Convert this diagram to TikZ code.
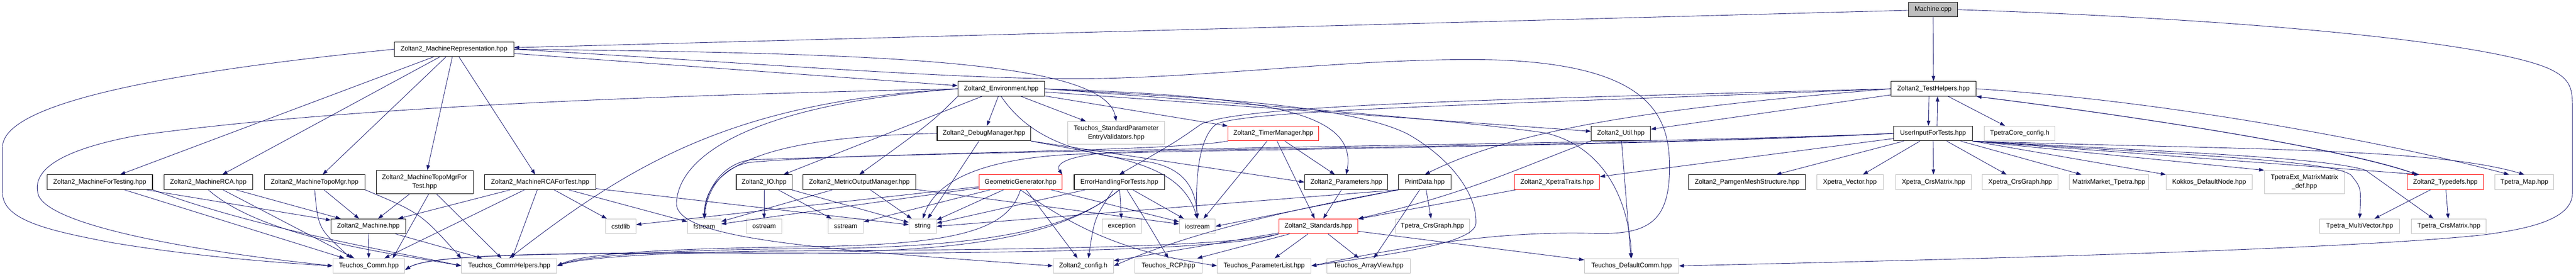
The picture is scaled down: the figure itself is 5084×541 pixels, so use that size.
\documentclass[tikz,border=0pt]{standalone}
\usepackage{fontspec}
\setmainfont{Liberation Sans}
\usetikzlibrary{arrows.meta}
\definecolor{edgeblue}{HTML}{191970}
\definecolor{boxgray}{HTML}{BFBFBF}

\begin{document}
\begin{tikzpicture}
		[x=1pt, y=-1pt,
		file/.style={rectangle, inner sep=0pt, minimum height=29pt, align=center, font=\fontsize{12.85}{17}\selectfont},
		doc/.style={file, draw=black, line width=1.1pt},
		ext/.style={file, draw=boxgray, line width=1pt},
		trunc/.style={file, draw=red, line width=1.1pt},
		root/.style={doc, fill=boxgray},
		dep/.style={-{Triangle[length=10pt,width=7pt]}, draw=edgeblue, line width=0.9pt}]
		\useasboundingbox (0,0) rectangle (5084,541);

		% the files, row by row
		\node [root, minimum width=97] (machine) at (3815,19) {Machine.cpp};
		\node [doc, minimum width=236] (rep) at (896,97) {Zoltan2\_MachineRepresentation.hpp};
		\node [doc, minimum width=171] (env) at (1976,175) {Zoltan2\_Environment.hpp};
		\node [doc, minimum width=168] (testh) at (3816,175) {Zoltan2\_TestHelpers.hpp};

		\node [doc, minimum width=185] (dbg) at (1942,263) {Zoltan2\_DebugManager.hpp};
		\node [ext, minimum width=191, minimum height=45] (spev) at (2203,262) {Teuchos\_StandardParameter\\EntryValidators.hpp};
		\node [trunc, minimum width=179] (timer) at (2513,263) {Zoltan2\_TimerManager.hpp};
		\node [doc, minimum width=117] (util) at (3199,263) {Zoltan2\_Util.hpp};
		\node [doc, minimum width=155] (uift) at (3815,263) {UserInputForTests.hpp};
		\node [ext, minimum width=139] (tcfg) at (3986,263) {TpetraCore\_config.h};

		\node [doc, minimum width=208] (mft) at (197,359) {Zoltan2\_MachineForTesting.hpp};
		\node [doc, minimum width=175] (rca) at (411,359) {Zoltan2\_MachineRCA.hpp};
		\node [doc, minimum width=198] (topo) at (621,359) {Zoltan2\_MachineTopoMgr.hpp};
		\node [doc, minimum width=191, minimum height=46] (topot) at (838,359) {Zoltan2\_MachineTopoMgrFor\\Test.hpp};
		\node [doc, minimum width=219] (rcat) at (1066,359) {Zoltan2\_MachineRCAForTest.hpp};
		\node [doc, minimum width=110] (io) at (1508,359) {Zoltan2\_IO.hpp};
		\node [doc, minimum width=223] (mom) at (1696,359) {Zoltan2\_MetricOutputManager.hpp};
		\node [trunc, minimum width=164] (geo) at (2014,359) {GeometricGenerator.hpp};
		\node [doc, minimum width=178] (ehft) at (2209,359) {ErrorHandlingForTests.hpp};
		\node [doc, minimum width=164] (params) at (2657,359) {Zoltan2\_Parameters.hpp};
		\node [doc, minimum width=103] (pdata) at (2812,359) {PrintData.hpp};
		\node [trunc, minimum width=168] (xtraits) at (3073,359) {Zoltan2\_XpetraTraits.hpp};
		\node [doc, minimum width=231] (pamgen) at (3448,359) {Zoltan2\_PamgenMeshStructure.hpp};
		\node [ext, minimum width=131] (xvec) at (3651,359) {Xpetra\_Vector.hpp};
		\node [ext, minimum width=150] (xcrsm) at (3816,359) {Xpetra\_CrsMatrix.hpp};
		\node [ext, minimum width=149] (xcrsg) at (3987,359) {Xpetra\_CrsGraph.hpp};
		\node [ext, minimum width=156] (mmt) at (4162,359) {MatrixMarket\_Tpetra.hpp};
		\node [ext, minimum width=170] (kokkos) at (4360,359) {Kokkos\_DefaultNode.hpp};
		\node [ext, minimum width=158, minimum height=46] (tmm) at (4548,359) {TpetraExt\_MatrixMatrix\\\_def.hpp};
		\node [trunc, minimum width=151] (typedefs) at (4826,359) {Zoltan2\_Typedefs.hpp};
		\node [ext, minimum width=116] (tmap) at (4982,359) {Tpetra\_Map.hpp};

		\node [doc, minimum width=147] (zmach) at (727,446) {Zoltan2\_Machine.hpp};
		\node [ext, minimum width=60] (cstdlib) at (1225,446) {cstdlib};
		\node [ext, minimum width=66] (fstream) at (1390,446) {fstream};
		\node [ext, minimum width=70] (ostream) at (1508,446) {ostream};
		\node [ext, minimum width=70] (sstream) at (1669,446) {sstream};
		\node [ext, minimum width=54] (string) at (1821,446) {string};
		\node [ext, minimum width=78] (exception) at (2214,446) {exception};
		\node [ext, minimum width=71] (iostream) at (2363,446) {iostream};
		\node [trunc, minimum width=156] (std) at (2602,446) {Zoltan2\_Standards.hpp};
		\node [ext, minimum width=147] (tcrsg) at (2827,446) {Tpetra\_CrsGraph.hpp};
		\node [ext, minimum width=157] (tmv) at (4657,446) {Tpetra\_MultiVector.hpp};
		\node [ext, minimum width=148] (tcrsm) at (4833,446) {Tpetra\_CrsMatrix.hpp};

		\node [ext, minimum width=142] (tcomm) at (728,524) {Teuchos\_Comm.hpp};
		\node [ext, minimum width=188] (tch) at (1005,524) {Teuchos\_CommHelpers.hpp};
		\node [ext, minimum width=119] (zcfg) at (2138,524) {Zoltan2\_config.h};
		\node [ext, minimum width=133] (trcp) at (2306,524) {Teuchos\_RCP.hpp};
		\node [ext, minimum width=185] (tpl) at (2495,524) {Teuchos\_ParameterList.hpp};
		\node [ext, minimum width=164] (tav) at (2701,524) {Teuchos\_ArrayView.hpp};
		\node [ext, minimum width=186] (tdc) at (3220,524) {Teuchos\_DefaultComm.hpp};

		% the plain includes
		\foreach \a/\b in {machine/rep, machine/testh, rep/mft, rep/rca, rep/topo, rep/topot, rep/rcat, rep/env,
			mft/tcomm, mft/zmach, rca/tcomm, rca/zmach, topo/zmach, topot/zmach, topot/tch,
			rcat/zmach, rcat/tcomm, rcat/tch, rcat/cstdlib, rcat/fstream, rcat/string, zmach/tcomm, zmach/tch,
			env/dbg, env/spev, env/timer, env/io, env/util, dbg/string,
			mom/fstream, mom/string, mom/iostream, io/ostream, io/sstream, io/string,
			geo/cstdlib, geo/fstream, geo/sstream, geo/string, geo/zcfg, geo/iostream,
			ehft/string, ehft/exception, ehft/iostream, timer/params, timer/std, timer/iostream,
			params/std, xtraits/std, util/tdc, pdata/tcrsg, pdata/tav,
			std/trcp, std/zcfg, std/tav, std/tdc, std/tpl, testh/tcfg, testh/util,
			uift/xtraits, uift/pamgen, uift/xvec, uift/xcrsm, uift/xcrsg, uift/mmt, typedefs/tmv, typedefs/tcrsm}
			\draw [dep] (\a) -- (\b);

		% the long ways round
		\draw [dep] (machine.east) .. controls (4500,40) and (4950,90) .. (5040,140) .. controls (5077,160) and (5077,180) .. (5077,220) -- (5077,380) .. controls (5077,430) and (5000,450) .. (4900,463) .. controls (4600,495) and (3700,515) .. (tdc.east);
		\draw [dep] (rep.west) .. controls (350,140) and (5,200) .. (5,290) -- (5,380) .. controls (5,435) and (100,455) .. (220,478) .. controls (380,505) and (550,518) .. (tcomm.west);
		\draw [dep] (rep.east) .. controls (1700,105) and (2180,115) .. (spev.north);
		\draw [dep] (rep.east) .. controls (1500,125) and (1900,158) .. (2150,155) .. controls (2400,152) and (2700,112) .. (2950,118) .. controls (3260,128) and (3295,230) .. (3295,330) .. controls (3295,440) and (3250,462) .. (3150,460) .. controls (3000,456) and (2850,470) .. (tpl.east);
		\draw [dep] (env.west) .. controls (1200,190) and (650,215) .. (271,267) .. controls (120,295) and (60,335) .. (76,385) .. controls (100,445) and (380,495) .. (tcomm.west);
		\draw [dep] (env.west) .. controls (1450,200) and (1250,320) .. (tch.north);
		\draw [dep] (env.west) .. controls (1500,205) and (1340,300) .. (1335,400) .. controls (1333,470) and (1600,490) .. (zcfg.west);
		\draw [dep] (env.south west) .. controls (1840,240) .. (mom.north);
		\draw [dep] (env.east) .. controls (2500,190) and (2680,220) .. (params.north);
		\draw [dep] (env.east) .. controls (2600,215) and (2900,240) .. (3050,262) .. controls (3170,290) and (3215,400) .. (tdc.north);
		\draw [dep] (env.east) .. controls (2300,190) and (2650,200) .. (2778,264) .. controls (2860,310) and (2915,380) .. (2913,440) .. controls (2910,480) and (2750,500) .. (tpl.east);
		\draw [dep] (env.south) .. controls (2040,285) and (2150,305) .. (2260,318) .. controls (2345,330) and (2360,380) .. (iostream.north);
		\draw [dep] (dbg.west) .. controls (1600,268) and (1390,300) .. (fstream.north);
		\draw [dep] (dbg.south east) .. controls (2200,310) and (2330,320) .. (iostream.north);
		\draw [dep] (dbg.south east) -- (params.west);
		\draw [dep] (timer.south west) .. controls (2300,300) and (1700,300) .. (1480,320) .. controls (1420,330) and (1395,380) .. (fstream.north);

		% the machine headers
		\draw [dep] (mft.south east) .. controls (520,455) and (800,500) .. (tch.west);
		\draw [dep] (rca.south) .. controls (520,470) and (780,500) .. (tch.west);
		\draw [dep] (topo.south) .. controls (628,450) .. ([xshift=-35]tcomm.north);
		\draw [dep] (topo.south east) .. controls (830,420) .. (tch.north west);
		\draw [dep] ([xshift=8]topot.south) -- ([xshift=47]tcomm.north);

		% down the corridor above the last row
		\draw [dep] (ehft.south) .. controls (2120,450) and (1950,488) .. (1600,490) .. controls (1300,492) and (1150,505) .. (tch.east);
		\draw [dep] (ehft.south) .. controls (2110,455) and (1950,495) .. (1600,497) .. controls (1100,498) and (850,500) .. ([yshift=-8]tcomm.east);
		\draw [dep] (geo.south) .. controls (1990,450) and (1900,482) .. (1600,486) .. controls (1300,490) and (1150,500) .. (tch.east);
		\draw [dep] (std.south west) .. controls (2450,480) and (2200,492) .. (1600,494) .. controls (1300,496) and (1150,508) .. (tch.east);
		\draw [dep] (std.south west) .. controls (2450,485) and (2200,498) .. (1600,500) .. controls (1100,498) and (850,500) .. ([yshift=-8]tcomm.east);
		\draw [dep] ([xshift=-12]ehft.south) .. controls (2160,430) .. ([xshift=10]zcfg.north);
		\draw [dep] ([xshift=15]ehft.south) .. controls (2265,440) .. (trcp.north);
		\draw [dep] (geo.south) .. controls (2150,470) and (2250,500) .. (tpl.west);
		\draw [dep] (util.south west) .. controls (3000,330) and (2900,380) .. (std.north east);
		\draw [dep] (pdata.south west) -- (iostream.east);
		\draw [dep] (pdata.south west) -- (string.east);
		\draw [dep] (pdata.south west) .. controls (2450,430) and (2300,480) .. (zcfg.east);

		% the test helpers
		\draw [dep] ([xshift=-9]testh.south) -- ([xshift=-9]uift.north);
		\draw [dep] ([xshift=8]uift.north) -- ([xshift=8]testh.south);
		\draw [dep] (testh.west) .. controls (3000,195) and (2450,205) .. (2370,245) .. controls (2320,280) .. (ehft.north);
		\draw [dep] (testh.west) .. controls (3000,205) and (2460,215) .. (2400,245) .. controls (2360,275) and (2360,380) .. (iostream.north);
		\draw [dep] (testh.west) .. controls (3300,210) and (3000,250) .. (pdata.north);
		\draw [dep] (testh.east) .. controls (4300,200) and (4750,290) .. ([xshift=-30]tmap.north);
		\draw [dep] (testh.south east) .. controls (4300,240) and (4650,300) .. ([xshift=20]typedefs.north west);
		\draw [dep] ([xshift=20]typedefs.north west) .. controls (4650,300) and (4300,240) .. (testh.south east);

		% user input
		\draw [dep] (uift.west) .. controls (3200,288) and (2400,292) .. (2200,300) .. controls (2120,305) and (2080,320) .. (geo.north east);
		\draw [dep] (uift.west) .. controls (3200,290) and (2300,295) .. (2100,305) .. controls (1950,315) and (1850,350) .. (string.north);
		\draw [dep] (uift.west) .. controls (3200,285) and (2200,290) .. (1480,315) .. controls (1420,325) and (1392,380) .. (fstream.north);
		\draw [dep] (uift.south east) -- (kokkos.north west);
		\draw [dep] (uift.south east) -- (tmm.north west);
		\draw [dep] (uift.south east) -- ([xshift=25]typedefs.north west);
		\draw [dep] (uift.south east) .. controls (4400,295) and (4800,290) .. (tmap.north);
		\draw [dep] (uift.south east) .. controls (4300,305) and (4600,315) .. (4640,345) .. controls (4660,370) .. (tmv.north);
		\draw [dep] (uift.south east) .. controls (4300,300) and (4580,310) .. (4668,335) -- ([xshift=-30]tcrsm.north);
	\end{tikzpicture}
\end{document}
